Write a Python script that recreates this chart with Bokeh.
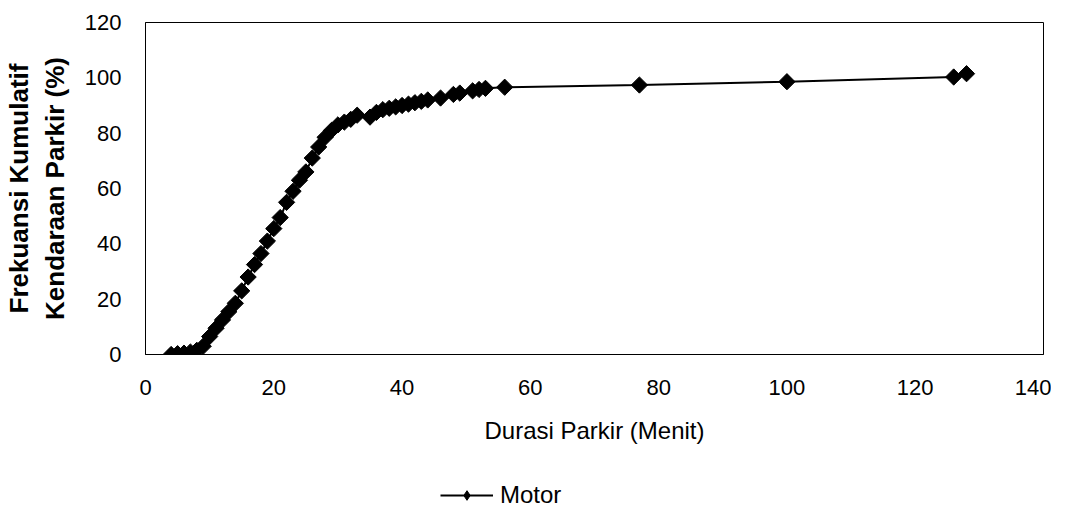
import math
from bokeh.plotting import figure
from bokeh.layouts import column
from bokeh.models import Range1d, FixedTicker, Legend, LegendItem
from bokeh.embed import file_html
from bokeh.resources import INLINE

# Data
durasi = [4, 5, 6, 7, 8, 9, 10, 11, 12, 13, 14, 15, 16, 17, 18, 19, 20, 21, 22, 23,
          24, 25, 26, 27, 28, 29, 30, 31, 32, 33, 35, 36, 37, 38, 39, 40, 41, 42, 43,
          44, 46, 48, 49, 51, 52, 53, 56, 77, 100, 126, 128]
frekuensi = [0.0, 0.3, 0.5, 0.9, 1.5, 3.0, 6.5, 9.5, 12.5, 15.5, 18.5, 23.0, 28.0, 32.5,
             36.5, 41.0, 45.5, 49.5, 55.0, 59.0, 63.0, 66.0, 71.0, 75.0, 78.5, 81.0,
             83.0, 84.0, 85.0, 86.5, 85.8, 87.5, 88.5, 89.0, 89.5, 90.0, 90.5, 91.0,
             91.5, 92.0, 92.7, 94.0, 94.5, 95.3, 95.8, 96.2, 96.6, 97.4, 98.6, 100.3, 101.5]
x_ticks = [0, 20, 40, 60, 80, 100, 120, 140]
y_ticks = [0, 20, 40, 60, 80, 100, 120]
series_name = "Motor"

FONT = "Liberation Sans"

p = figure(width=1051, height=450, output_backend="svg", toolbar_location=None,
           x_range=Range1d(0, 140), y_range=Range1d(0, 120),
           min_border_left=145, min_border_right=8, min_border_top=22, min_border_bottom=96)
p.frame_width = 898
p.frame_height = 332

p.grid.visible = False
p.outline_line_color = "black"
p.outline_line_width = 1
p.background_fill_color = "white"
p.border_fill_color = "white"

# axes
p.xaxis.ticker = FixedTicker(ticks=x_ticks)
p.yaxis.ticker = FixedTicker(ticks=y_ticks)
for ax in (p.xaxis[0], p.yaxis[0]):
    ax.major_tick_line_color = None
    ax.minor_tick_line_color = None
    ax.axis_line_color = "black"
    ax.major_label_text_font = FONT
    ax.major_label_text_font_size = "22px"
    ax.major_label_text_color = "black"
    ax.axis_label_text_font = FONT
    ax.axis_label_text_color = "black"

p.yaxis.major_label_standoff = 18
p.yaxis.axis_label = "Frekuansi Kumulatif\nKendaraan Parkir (%)"
p.yaxis.axis_label_text_font_style = "bold"
p.yaxis.axis_label_text_font_size = "26px"
p.yaxis.axis_label_standoff = 12

p.xaxis.major_label_standoff = 19
p.xaxis.axis_label = "Durasi Parkir (Menit)"
p.xaxis.axis_label_text_font_style = "normal"
p.xaxis.axis_label_text_font_size = "24px"
p.xaxis.axis_label_standoff = 19

p.line(durasi, frekuensi, line_color="black", line_width=2)
p.scatter(durasi, frekuensi, marker="square", angle=math.pi / 4, size=11.5,
          fill_color="black", line_color="black")

# legend strip under the chart (its frame is aligned with the chart frame)
q = figure(width=1051, height=59, output_backend="svg", toolbar_location=None,
           x_range=Range1d(0, 1), y_range=Range1d(0, 1),
           x_axis_location=None, y_axis_location=None,
           min_border_left=145, min_border_right=8, min_border_top=0, min_border_bottom=0)
q.grid.visible = False
q.outline_line_color = None
q.background_fill_color = "white"
q.border_fill_color = "white"
lg_line = q.line([5, 6], [5, 6], line_color="black", line_width=2)
lg_mark = q.scatter([5, 6], [5, 6], marker="diamond", size=15,
                    fill_color="black", line_color="black")
legend = Legend(items=[LegendItem(label=series_name, renderers=[lg_line, lg_mark])],
                location=(295, 0), orientation="horizontal",
                padding=0, margin=0, spacing=0, glyph_width=53, glyph_height=24,
                label_standoff=7, label_text_font=FONT, label_text_font_size="24px",
                label_text_color="black",
                border_line_color=None, background_fill_alpha=0)
q.add_layout(legend, "center")

layout = column(p, q, spacing=0)
open("out.html", "w").write(file_html(layout, INLINE))
